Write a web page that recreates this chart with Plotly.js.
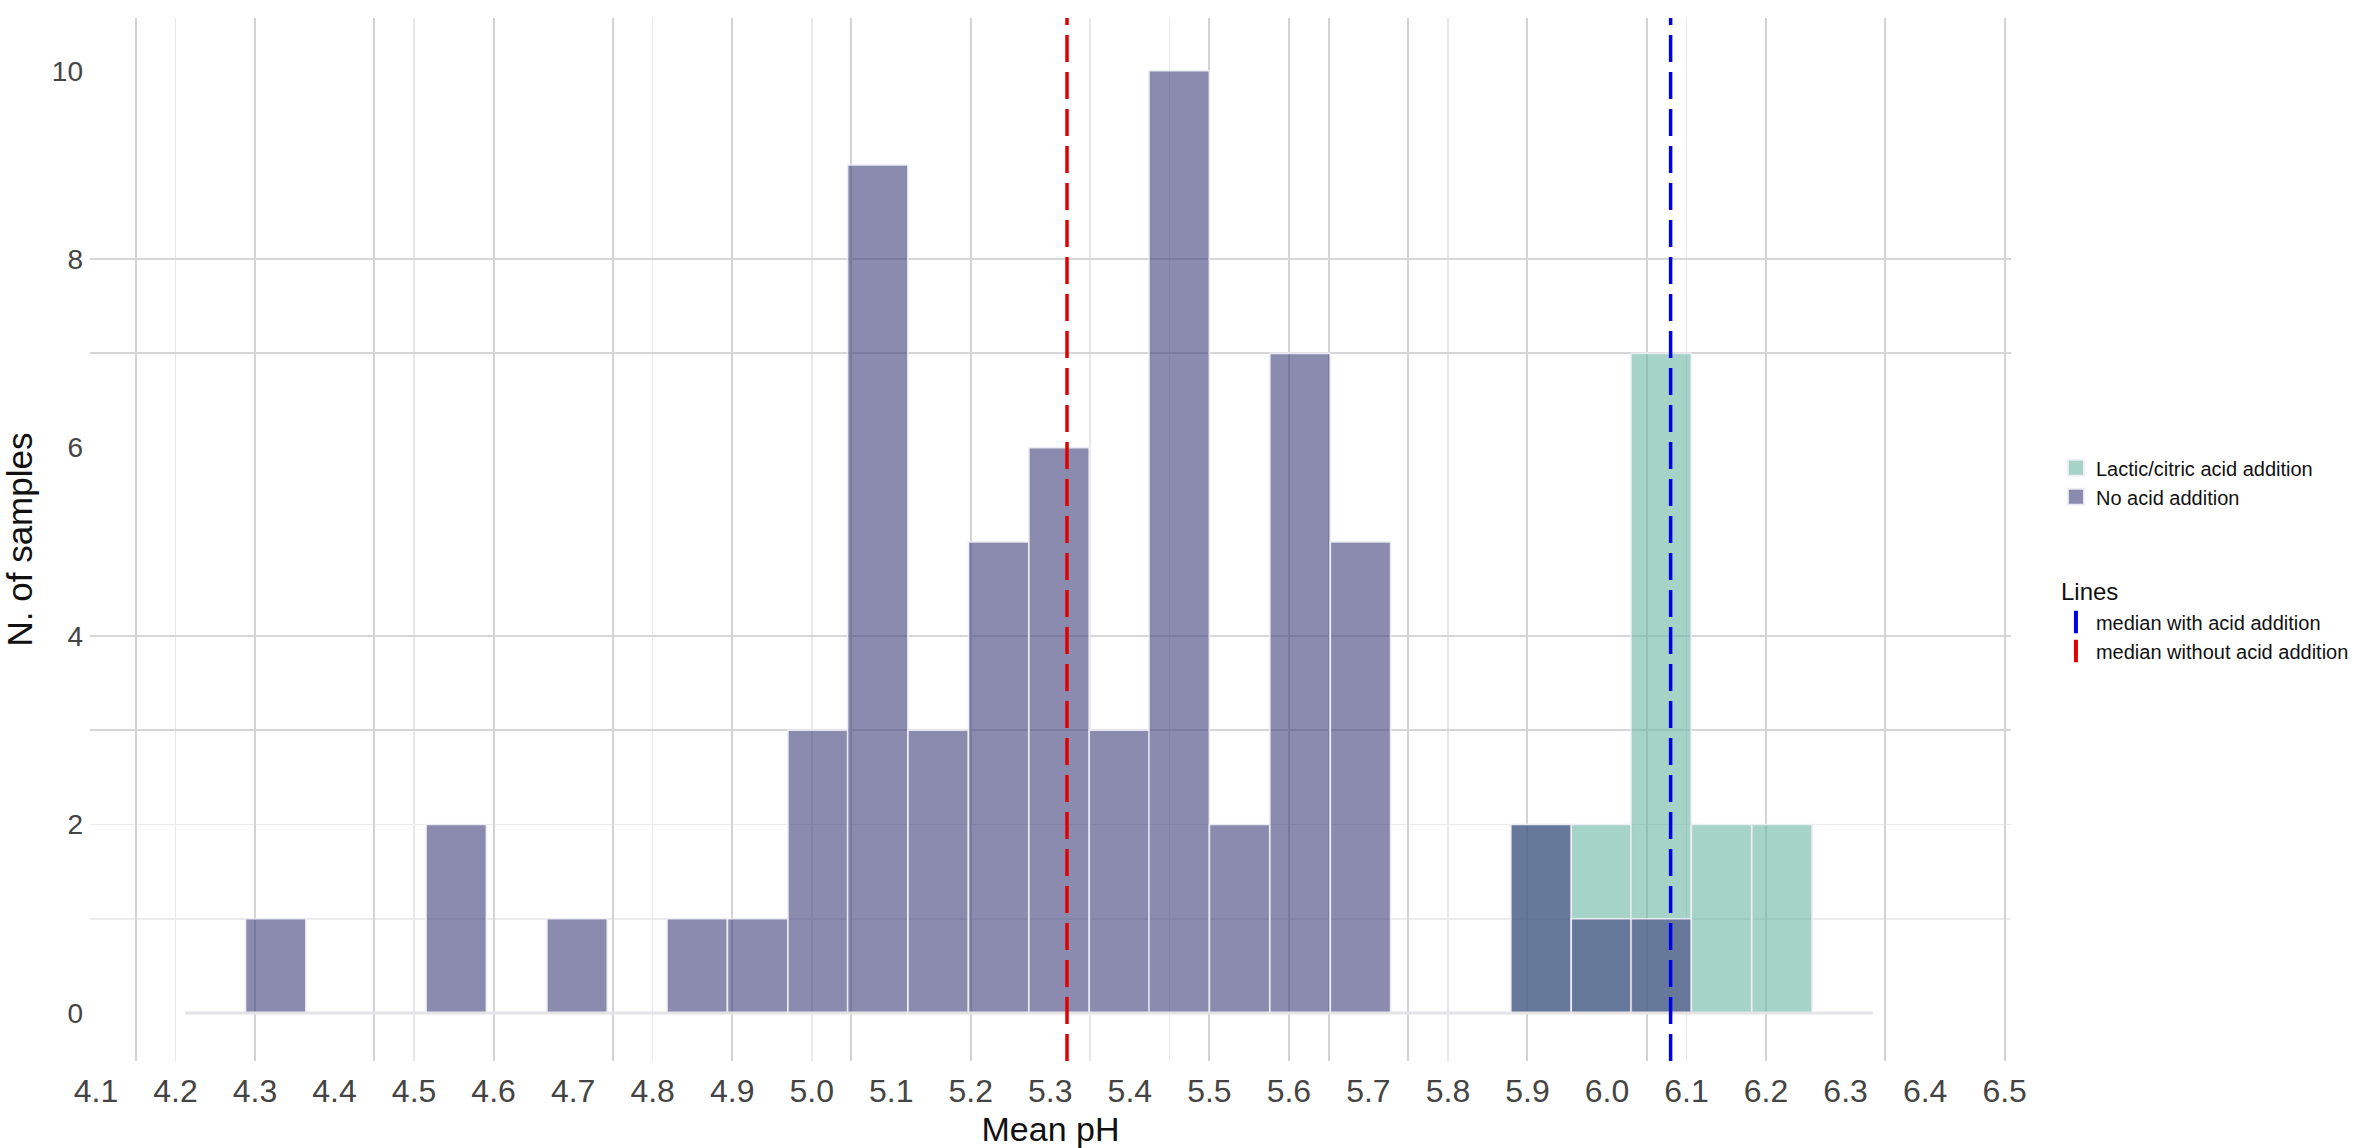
<!DOCTYPE html>
<html>
<head>
<meta charset="utf-8">
<script src="https://cdn.plot.ly/plotly-3.0.1.min.js"></script>
<style>
  html, body { margin: 0; padding: 0; background: #fff; }
  #chart { width: 2366px; height: 1148px; }
</style>
</head>
<body>
<div id="chart"></div>
<script>
// ---- DATA
// histogram bin centres (pH), one bin every ~0.076
const binMids = [4.250, 4.326, 4.402, 4.477, 4.553, 4.629, 4.705, 4.780, 4.856, 4.932,
                 5.008, 5.083, 5.159, 5.235, 5.311, 5.387, 5.462, 5.538, 5.614, 5.690,
                 5.765, 5.841, 5.917, 5.993, 6.068, 6.144, 6.220, 6.296];
const binWidth = 0.0758;

const acidCounts   = [0, 0, 0, 0, 0, 0, 0, 0, 0, 0,
                      0, 0, 0, 0, 0, 0, 0, 0, 0, 0,
                      0, 0, 2, 2, 7, 2, 2, 0];
const noAcidCounts = [0, 1, 0, 0, 2, 0, 1, 0, 1, 1,
                      3, 9, 3, 5, 6, 3, 10, 2, 7, 5,
                      0, 0, 2, 1, 1, 0, 0, 0];

const medianAcid = 6.08;
const medianNoAcid = 5.321;

const seriesNames = ["Lactic/citric acid addition", "No acid addition"];
const lineNames = ["median with acid addition", "median without acid addition"];

const phTicks = [4.1, 4.2, 4.3, 4.4, 4.5, 4.6, 4.7, 4.8, 4.9, 5.0, 5.1, 5.2, 5.3,
                 5.4, 5.5, 5.6, 5.7, 5.8, 5.9, 6.0, 6.1, 6.2, 6.3, 6.4, 6.5];
const countTicks = [0, 2, 4, 6, 8, 10];

// ---- background grid (it does not follow the tick labels in the original)
const gridXMajor = [4.15, 4.3, 4.45, 4.6, 4.75, 4.9, 5.05, 5.2, 5.5, 5.6, 5.65,
                    5.75, 5.9, 6.05, 6.2, 6.35, 6.5];
const gridXMinor = [4.2, 4.5, 4.8, 5.0, 5.35, 5.45, 5.8, 6.1];
const gridYMajor = [3, 4, 7, 8];
const gridYMinor = [1, 2];

// ---- STYLE
const FONT = "Liberation Sans, Arial, Helvetica, sans-serif";
const colAcid = "rgba(105,182,163,0.6)";
const colNoAcid = "rgba(62,62,123,0.6)";
const colOutline = "rgba(240,240,246,0.9)";
const colRed = "rgb(225,0,0)";
const colBlue = "rgb(0,0,230)";
const xRange = [4.0925, 6.508];
const yRange = [-0.51, 10.56];

// ---- TRACES
const edgeLeft = binMids[0] - binWidth / 2;
const edgeRight = binMids[binMids.length - 1] + binWidth / 2;

const baseline = {
  x: [edgeLeft, edgeRight],
  y: [0, 0],
  xaxis: "x2",
  yaxis: "y2",
  type: "scatter",
  mode: "lines",
  line: { color: "#e3e3e8", width: 3 },
  showlegend: false,
  hoverinfo: "skip"
};

function histBars(counts, name, color) {
  return {
    x: binMids,
    y: counts,
    width: binWidth,
    type: "bar",
    name: name,
    showlegend: false,
    marker: { color: color, line: { color: colOutline, width: 1.6 } }
  };
}

// legend-only entries (bigger keys than plotly's default bar swatch)
function legendFill(name, color) {
  return {
    x: [null], y: [null],
    type: "scatter", mode: "markers",
    name: name,
    legendgroup: "fill",
    marker: { symbol: "square", size: 16, color: color, line: { color: colOutline, width: 2 } },
    hoverinfo: "skip"
  };
}

function legendLine(name, color, first) {
  const t = {
    x: [null], y: [null],
    type: "scatter", mode: "markers",
    name: name,
    legendgroup: "lines",
    marker: { symbol: "line-ns", size: 16, color: color, line: { color: color, width: 4 } },
    hoverinfo: "skip"
  };
  if (first) t.legendgrouptitle = { text: "Lines", font: { size: 24, color: "#111" } };
  return t;
}

const data = [
  baseline,
  histBars(acidCounts, seriesNames[0], colAcid),
  histBars(noAcidCounts, seriesNames[1], colNoAcid),
  legendFill(seriesNames[0], colAcid),
  legendFill(seriesNames[1], colNoAcid),
  legendLine(lineNames[0], colBlue, true),
  legendLine(lineNames[1], colRed, false)
];

function medianShape(xv, color) {
  return {
    type: "line", xref: "x", yref: "paper",
    x0: xv, x1: xv, y0: 0, y1: 1,
    line: { color: color, width: 3.5, dash: "27px,10px" }
  };
}

const layout = {
  width: 2366,
  height: 1148,
  margin: { l: 90, r: 353, t: 18, b: 87 },
  paper_bgcolor: "#fff",
  plot_bgcolor: "#fff",
  font: { family: FONT, color: "#111" },
  barmode: "overlay",
  bargap: 0,
  showlegend: true,
  legend: {
    x: 1.0234, y: 0.5875, xanchor: "left", yanchor: "top",
    font: { size: 20, color: "#111" },
    traceorder: "grouped",
    tracegroupgap: 62,
    bgcolor: "rgba(0,0,0,0)"
  },
  xaxis: {
    range: xRange,
    tickmode: "array",
    tickvals: phTicks,
    ticktext: phTicks.map(v => v.toFixed(1)),
    ticks: "",
    ticklabelstandoff: 8,
    tickfont: { size: 32, color: "#444" },
    showgrid: false,
    zeroline: false,
    showline: false,
    title: { text: "Mean pH", font: { size: 34, color: "#111" }, standoff: 16 }
  },
  yaxis: {
    range: yRange,
    tickmode: "array",
    tickvals: countTicks,
    ticks: "",
    ticklabelstandoff: 6,
    tickfont: { size: 28, color: "#444" },
    showgrid: false,
    zeroline: false,
    showline: false,
    title: { text: "N. of samples", font: { size: 35, color: "#111" }, standoff: 14 }
  },
  xaxis2: {
    overlaying: "x",
    anchor: "y",
    range: xRange,
    tickmode: "array",
    tickvals: gridXMajor,
    showticklabels: false,
    ticks: "",
    showgrid: true,
    gridcolor: "#d3d3d6",
    gridwidth: 2,
    zeroline: false,
    minor: { tickmode: "array", tickvals: gridXMinor, showgrid: true, gridcolor: "#e9e9ec", gridwidth: 1.6, ticks: "" }
  },
  yaxis2: {
    overlaying: "y",
    anchor: "x",
    range: yRange,
    tickmode: "array",
    tickvals: gridYMajor,
    showticklabels: false,
    ticks: "",
    showgrid: true,
    gridcolor: "#d6d6d9",
    gridwidth: 2,
    zeroline: false,
    minor: { tickmode: "array", tickvals: gridYMinor, showgrid: true, gridcolor: "#ececef", gridwidth: 1.6, ticks: "" }
  },
  shapes: [medianShape(medianNoAcid, colRed), medianShape(medianAcid, colBlue)]
};

Plotly.newPlot("chart", data, layout, { staticPlot: true });
</script>
</body>
</html>
